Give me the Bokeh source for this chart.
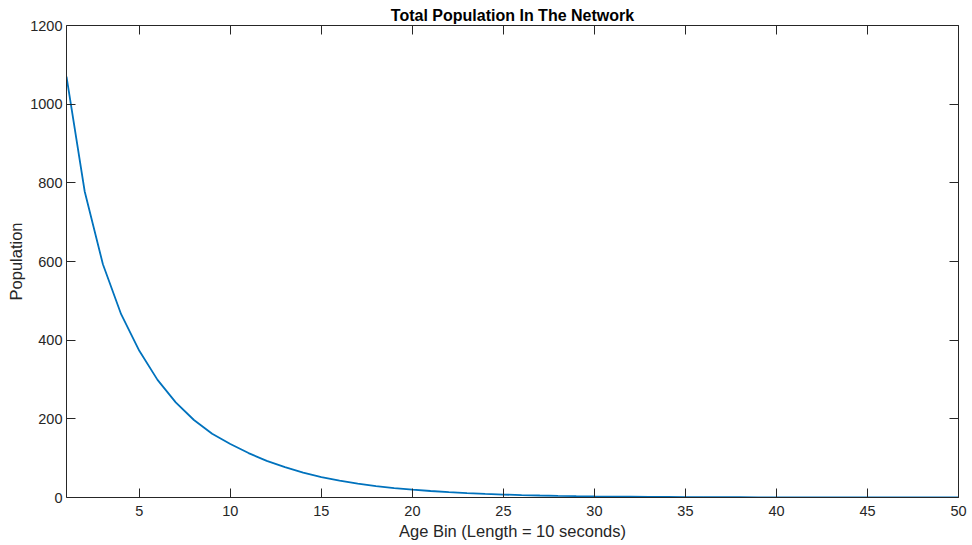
from bokeh.plotting import figure
from bokeh.models import Range1d, LinearAxis, FixedTicker, Title
from bokeh.embed import file_html
from bokeh.resources import INLINE

age_bin = list(range(1, 51))
population = [1070, 778, 593, 466, 373, 299, 242, 197, 162, 136,
              113, 93, 77, 63, 52, 43, 35.5, 29, 24, 20,
              16.5, 13.5, 11, 9, 7.5, 6.2, 5.1, 4.2, 3.5, 2.9,
              2.4, 2.0, 1.6, 1.3, 1.1, 0.9, 0.75, 0.6, 0.5, 0.42,
              0.35, 0.29, 0.24, 0.2, 0.16, 0.13, 0.11, 0.09, 0.07, 0.06]
x_ticks = [5, 10, 15, 20, 25, 30, 35, 40, 45, 50]
y_ticks = [0, 200, 400, 600, 800, 1000, 1200]

FONT = "Liberation Sans"
AX = "#262626"

p = figure(width=972, height=545, output_backend="svg", toolbar_location=None,
           x_range=Range1d(1, 50), y_range=Range1d(0, 1200),
           min_border_left=66, min_border_right=14, min_border_top=25, min_border_bottom=48)
p.title = Title(text="Total Population In The Network", align="center",
                text_font=FONT, text_font_size="16px", text_font_style="bold",
                text_color="#000000", standoff=4, offset=0)
p.grid.visible = False
p.outline_line_color = None
p.background_fill_color = "white"
p.border_fill_color = "white"

p.line(age_bin, population, line_color="#0072BD", line_width=1.8)

def style(ax, ticks, labels=True):
    ax.ticker = FixedTicker(ticks=ticks)
    ax.axis_line_color = AX
    ax.axis_line_width = 1
    ax.major_tick_line_color = AX
    ax.major_tick_in = 9
    ax.major_tick_out = 0
    ax.minor_tick_line_color = None
    ax.major_label_text_font = FONT
    ax.major_label_text_font_size = "14.5px"
    ax.major_label_text_color = AX
    ax.axis_label_text_font = FONT
    ax.axis_label_text_font_size = "16.5px"
    ax.axis_label_text_font_style = "normal"
    ax.axis_label_text_color = AX
    if not labels:
        ax.major_label_text_font_size = "0px"
        ax.major_label_text_color = None

style(p.xaxis[0], x_ticks)
style(p.yaxis[0], y_ticks)
p.xaxis[0].axis_label = "Age Bin (Length = 10 seconds)"
p.yaxis[0].axis_label = "Population"
p.xaxis[0].major_label_standoff = 8
p.yaxis[0].major_label_standoff = 4
p.xaxis[0].axis_label_standoff = 3
p.yaxis[0].axis_label_standoff = 2

top = LinearAxis()
style(top, x_ticks, labels=False)
p.add_layout(top, "above")
right = LinearAxis()
style(right, y_ticks, labels=False)
p.add_layout(right, "right")

open("out.html", "w").write(file_html(p, INLINE))
